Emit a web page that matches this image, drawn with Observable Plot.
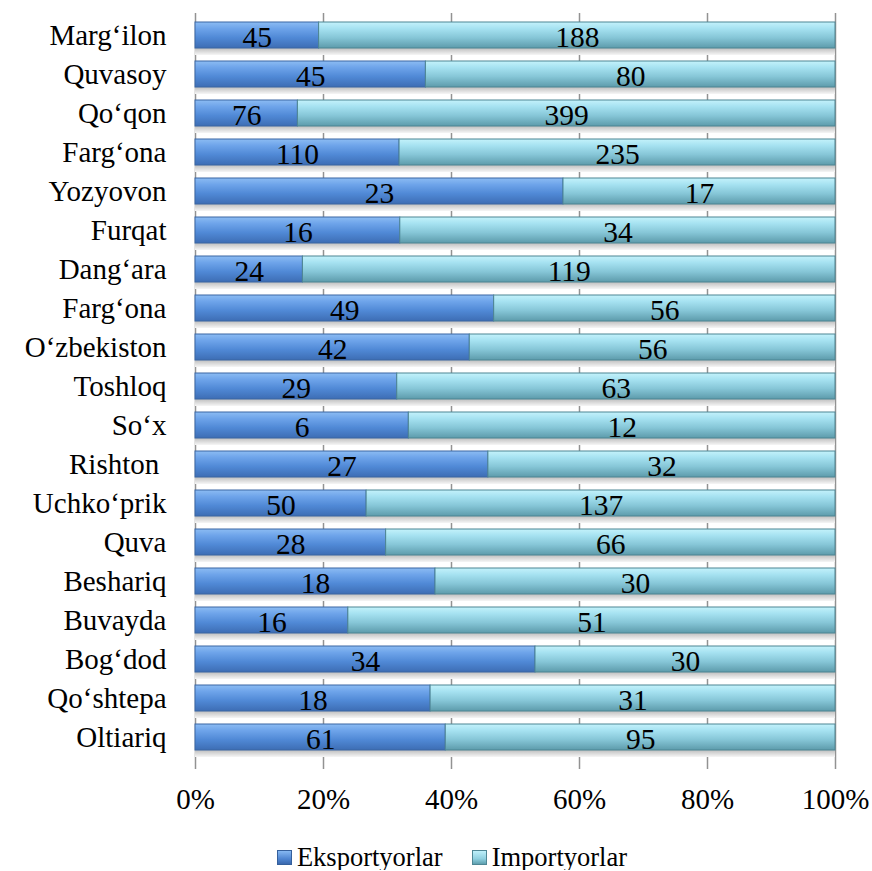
<!DOCTYPE html>
<html>
<head>
<meta charset="utf-8">
<script src="https://cdn.jsdelivr.net/npm/d3@7"></script>
<script src="https://cdn.jsdelivr.net/npm/@observablehq/plot@0.6"></script>
<style>
  body { margin: 0; background: #fff; font-family: "Liberation Serif", Tinos, "Times New Roman", serif; }
  .serif { font-family: "Liberation Serif", Tinos, "Times New Roman", serif; }
  .legend { display: flex; justify-content: center; align-items: center; gap: 29px; padding-top: 12px; padding-left: 32px; font-size: 26.5px; line-height: 26px; color: #000; }
  .legend span.item { display: flex; align-items: center; gap: 5px; }
  .legend .sw { width: 15px; height: 15px; display: inline-block; border: 1px solid; box-sizing: border-box; }
</style>
</head>
<body>
<div id="chart"></div>
<div class="legend serif">
  <span class="item"><span class="sw" style="background:linear-gradient(#86b8f2,#4f86d2 60%,#3a68ad);border-color:#35609c"></span>Eksportyorlar</span>
  <span class="item"><span class="sw" style="background:linear-gradient(#bff0fa,#8fd0e0 60%,#5e9fae);border-color:#4f8795"></span>Importyorlar</span>
</div>
<script>
const names = ["Marg‘ilon","Quvasoy","Qo‘qon","Farg‘ona","Yozyovon","Furqat","Dang‘ara","Farg‘ona","O‘zbekiston","Toshloq","So‘x","Rishton ","Uchko‘prik","Quva","Beshariq","Buvayda","Bog‘dod","Qo‘shtepa","Oltiariq"];
const exportsV = [45,45,76,110,23,16,24,49,42,29,6,27,50,28,18,16,34,18,61];
const importsV = [188,80,399,235,17,34,119,56,56,63,12,32,137,66,30,51,30,31,95];
const xTicks = [0,0.2,0.4,0.6,0.8,1];

const rows = names.map((name, i) => {
  const total = exportsV[i] + importsV[i];
  return { i, name, exp: exportsV[i], imp: importsV[i], share: exportsV[i] / total };
});

function defs() {
  const ns = "http://www.w3.org/2000/svg";
  const d = document.createElementNS(ns, "defs");
  const mk = (id, stops) => {
    const g = document.createElementNS(ns, "linearGradient");
    g.setAttribute("id", id);
    g.setAttribute("x1", "0"); g.setAttribute("y1", "0");
    g.setAttribute("x2", "0"); g.setAttribute("y2", "1");
    for (const [o, c] of stops) {
      const s = document.createElementNS(ns, "stop");
      s.setAttribute("offset", o); s.setAttribute("stop-color", c);
      g.appendChild(s);
    }
    d.appendChild(g);
  };
  mk("gb", [[0, "#8cbcf3"], [0.25, "#6ea4ea"], [0.6, "#5089d6"], [1, "#3d6db4"]]);
  mk("gt", [[0, "#c4f2fb"], [0.25, "#a6e2f1"], [0.6, "#86c6d7"], [1, "#5d9bab"]]);
  mk("gs", [[0, "#b4b4b4"], [0.72, "#bcbcbc"], [1, "#f6f6f6"]]);
  return d;
}

const FF = "Liberation Serif, Tinos, Times New Roman, serif";
const H = 832;
const chart = Plot.plot({
  width: 872,
  height: H,
  marginLeft: 195,
  marginRight: 37,
  marginTop: 13,
  marginBottom: 73,
  className: "serif",
  style: { fontSize: "28px", background: "#fff" },
  x: { domain: [0, 1], label: null },
  y: { type: "band", domain: d3.range(names.length), paddingInner: 0.34, paddingOuter: 0.17, label: null },
  marks: [
    defs,
    Plot.ruleX(xTicks, { stroke: "#929292", strokeWidth: 1.5 }),
    Plot.barX(rows, { y: "i", x1: 0, x2: 1, dy: 7, fill: "url(#gs)" }),
    Plot.barX(rows, { y: "i", x1: 0, x2: "share", fill: "url(#gb)", stroke: "#3a66a3", strokeWidth: 1 }),
    Plot.barX(rows, { y: "i", x1: "share", x2: 1, fill: "url(#gt)", stroke: "#4d8593", strokeWidth: 1 }),
    Plot.text(rows, { y: "i", x: d => d.share / 2, text: "exp", fill: "#000", fontSize: 29.5, fontFamily: FF, dy: 2 }),
    Plot.text(rows, { y: "i", x: d => d.share + (1 - d.share) / 2, text: "imp", fill: "#000", fontSize: 29.5, fontFamily: FF, dy: 2 }),
    Plot.axisX(xTicks, { tickSize: 10, tickPadding: 19, stroke: "#929292", strokeWidth: 1.5, tickFormat: d => Math.round(d * 100) + "%", fontSize: 29, fontFamily: FF, fill: "#000", label: null }),
    Plot.axisY({ tickSize: 0, tickPadding: 29, tickFormat: i => names[i], fontSize: 29, fontFamily: FF, fill: "#000", label: null })
  ]
});
chart.querySelectorAll("text").forEach(t => t.style.whiteSpace = "pre");
document.getElementById("chart").appendChild(chart);
</script>
</body>
</html>
